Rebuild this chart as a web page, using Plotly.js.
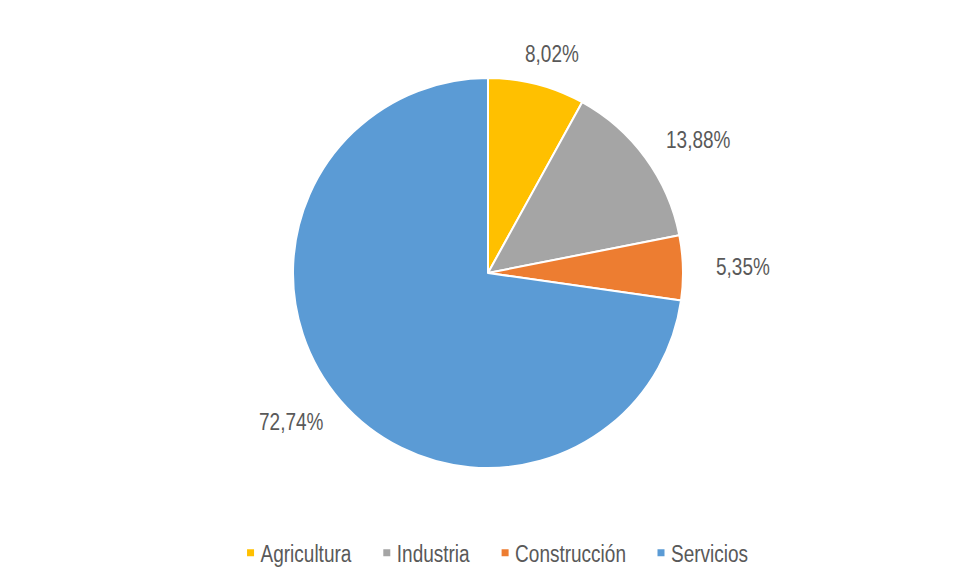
<!DOCTYPE html>
<html>
<head>
<meta charset="utf-8">
<script src="https://cdn.plot.ly/plotly-3.0.1.min.js"></script>
<style>html,body{margin:0;padding:0;background:#fff;}#chart{width:955px;height:585px;}</style>
</head>
<body>
<div id="chart"></div>
<script>
// ---- data ----
const categories = ['Agricultura', 'Industria', 'Construcción', 'Servicios'];
const values = [8.02, 13.88, 5.35, 72.74];
const colors = ['#FFC000', '#A5A5A5', '#ED7D31', '#5B9BD5'];

// ---- style / geometry ----
const FONT = '"Liberation Sans", Arial, sans-serif';
const FSIZE = 19;
const TEXT_COLOR = '#595959';
const W = 955, H = 585;
const M = {l: 0, r: 0, t: 78, b: 117};
const CX = 488, R = 195;                 // pie centre x (px) and radius (px)
const CY = M.t + R;
const LABEL_RX = 228, LABEL_RY = 217;    // label distance from centre

const plotW = W - M.l - M.r, plotH = H - M.t - M.b;

function fmt(v) { return v.toFixed(2).replace('.', ',') + '%'; }

// measure label widths
const cnv = document.createElement('canvas').getContext('2d');
cnv.font = FSIZE + 'px "Liberation Sans", Arial, sans-serif';

const total = values.reduce((a, b) => a + b, 0);
let cum = 0;
const annotations = values.map((v) => {
  const mid = (cum + v / 2) / total * 2 * Math.PI;   // clockwise from top
  cum += v;
  const ux = Math.sin(mid), uy = -Math.cos(mid);
  const txt = fmt(v);
  const w = cnv.measureText(txt).width, h = 19;
  const px = CX + LABEL_RX * ux + ux * w / 2;
  const py = CY + LABEL_RY * uy + uy * h / 2;
  return {
    text: txt, showarrow: false,
    xref: 'paper', yref: 'paper',
    x: (px - M.l) / plotW, y: 1 - (py - M.t) / plotH,
    xanchor: 'center', yanchor: 'middle',
    font: {family: FONT, size: FSIZE, color: TEXT_COLOR}
  };
});

const trace = {
  type: 'pie',
  labels: categories,
  values: values,
  sort: false,
  direction: 'clockwise',
  rotation: 0,
  marker: {colors: colors, line: {color: '#ffffff', width: 2}},
  textinfo: 'none',
  hoverinfo: 'label+value',
  domain: {x: [(CX - R - M.l) / plotW, (CX + R - M.l) / plotW], y: [0, 1]}
};

const layout = {
  width: W,
  height: H,
  separators: ',.',
  margin: M,
  paper_bgcolor: '#ffffff',
  showlegend: true,
  annotations: annotations,
  legend: {
    orientation: 'h',
    x: 0.510, xanchor: 'center',
    y: -0.169, yanchor: 'top',
    font: {family: FONT, size: FSIZE, color: TEXT_COLOR},
    itemwidth: 30,
    traceorder: 'normal'
  }
};

Plotly.newPlot('chart', [trace], layout, {displayModeBar: false, staticPlot: true}).then(() => {
  // condensed-looking tall text: stretch vertically
  document.querySelectorAll('#chart .legendtext, #chart .annotation-text').forEach(t => {
    t.style.transformBox = 'fill-box';
    t.style.transformOrigin = 'center';
    t.style.transform = 'scaleY(1.25)';
  });
  // smaller legend squares, closer to their text
  document.querySelectorAll('#chart .legendpie').forEach(p => {
    p.setAttribute('d', 'M14.5,4.5H5.5V-4.5H14.5Z');
  });
});
</script>
</body>
</html>
